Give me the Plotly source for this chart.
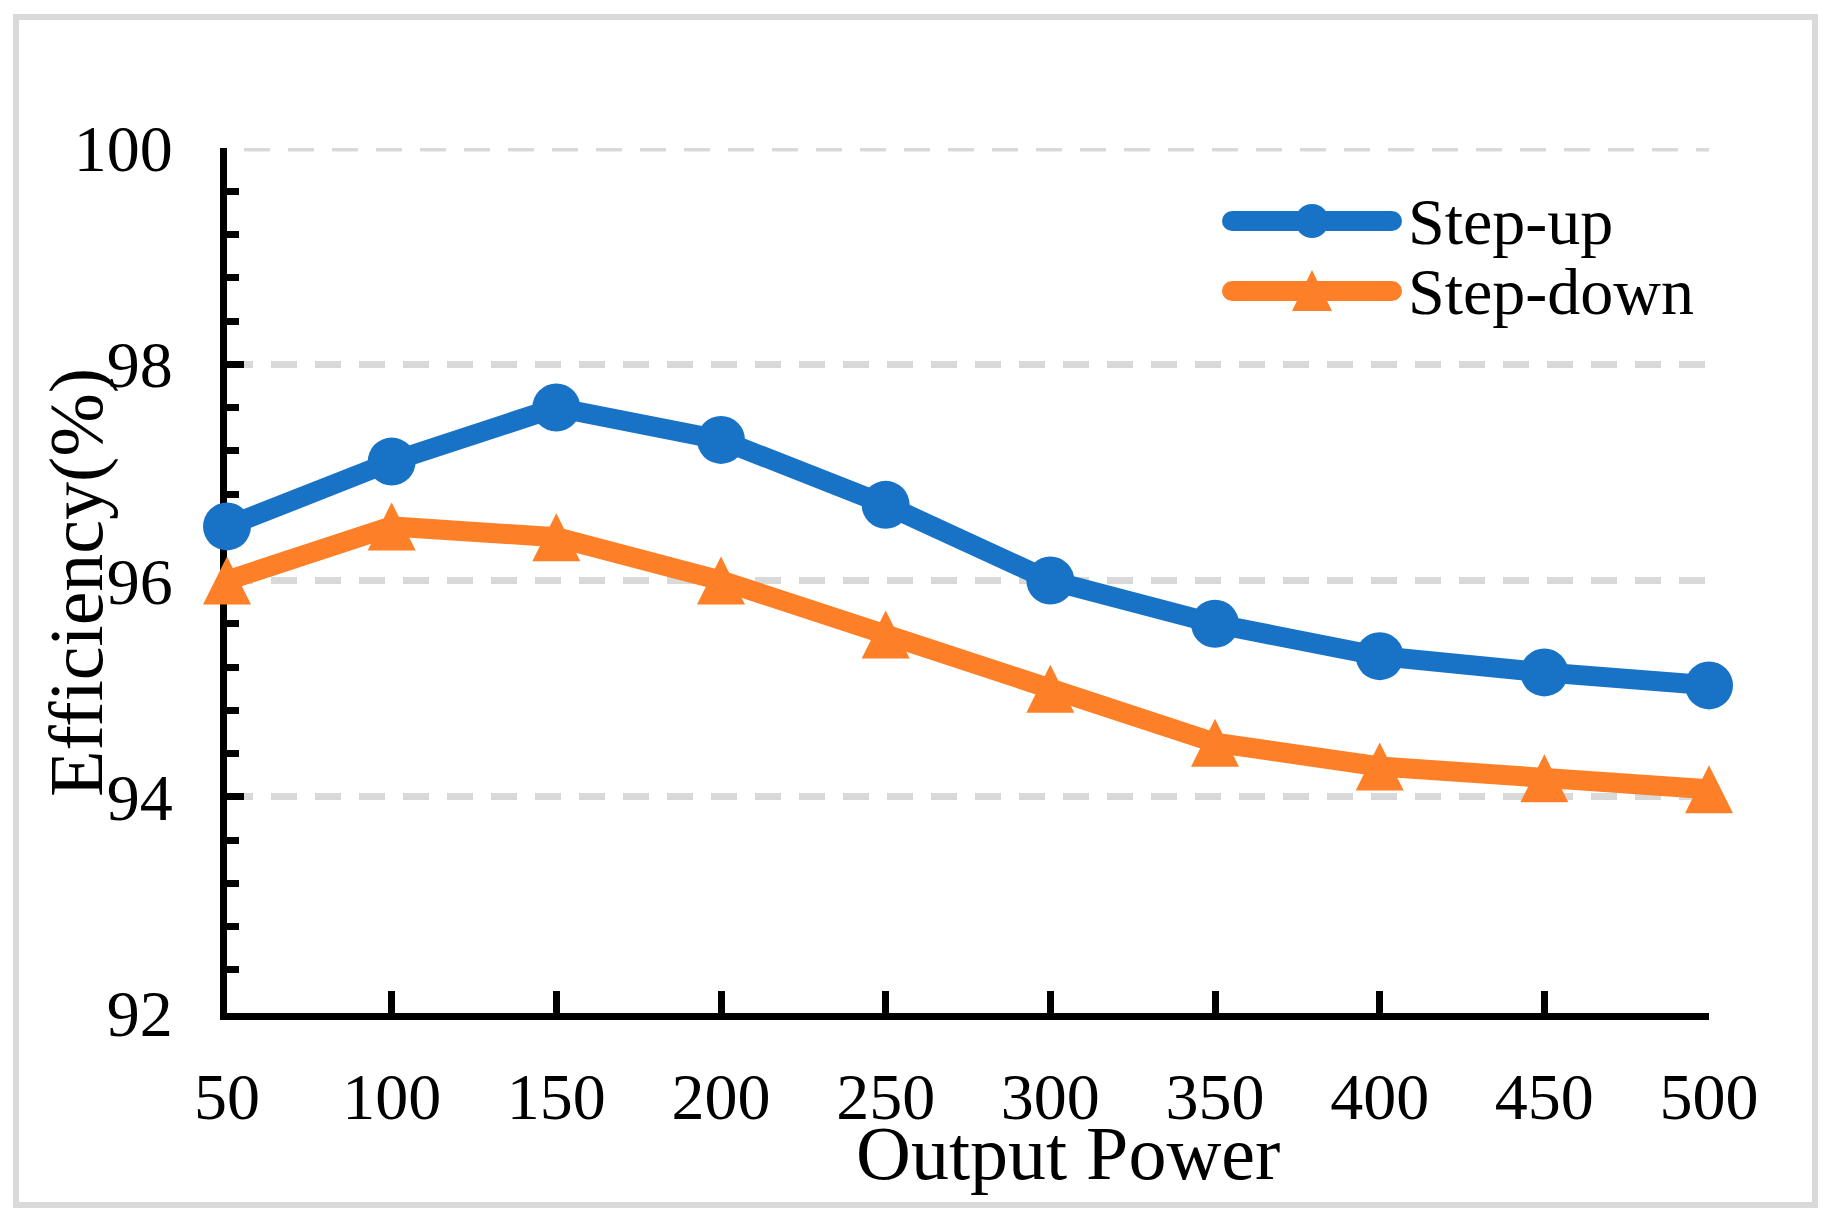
import plotly.graph_objects as go

# ---- data ----
power = [50, 100, 150, 200, 250, 300, 350, 400, 450, 500]
step_up = [96.5, 97.1, 97.6, 97.3, 96.7, 96.0, 95.6, 95.3, 95.15, 95.03]
step_down = [96.0, 96.5, 96.4, 96.0, 95.5, 95.0, 94.5, 94.28, 94.17, 94.07]
series_names = ["Step-up", "Step-down"]
x_tick_labels = [str(p) for p in power]
y_tick_values = [92, 94, 96, 98, 100]
y_tick_labels = [str(v) for v in y_tick_values]
x_title = "Output Power"
y_title = "Efficiency(%)"

# ---- layout geometry (pixels) ----
W, H = 1837, 1221
L, R, T, B = 227, 128, 148, 208
PW, PH = W - L - R, H - T - B


def px(x):
    return (x - L) / PW


def py(y):
    return (H - B - y) / PH


BLUE = "#1873c7"
ORANGE = "#fd7f27"
GRID = "#d9d9d9"
FONT = "Liberation Serif"

fig = go.Figure()
fig.add_trace(go.Scatter(
    x=power, y=step_up, mode="lines+markers", name=series_names[0],
    line=dict(color=BLUE, width=20),
    marker=dict(symbol="circle", size=48, color=BLUE),
    cliponaxis=False, showlegend=False))
fig.add_trace(go.Scatter(
    x=power, y=step_down, mode="lines+markers", name=series_names[1],
    line=dict(color=ORANGE, width=20, backoff=0),
    marker=dict(symbol="arrow-down", angle=180, standoff=24, size=48, color=ORANGE),
    cliponaxis=False, showlegend=False))

shapes = []
# outer frame
shapes.append(dict(type="rect", xref="paper", yref="paper",
                   x0=px(16), x1=px(1815), y0=py(17), y1=py(1205),
                   line=dict(color=GRID, width=6), layer="below"))
# top gridline (plotly skips the grid line on the plot edge)
shapes.append(dict(type="line", xref="paper", yref="y",
                   x0=px(244), x1=1, y0=y_tick_values[-1], y1=y_tick_values[-1],
                   line=dict(color=GRID, width=7, dash="26px,18px"), layer="below"))

# manual legend
leg_x0, leg_x1 = 1232, 1392
leg_rows = [(221, BLUE, "circle"), (291, ORANGE, "triangle")]
annotations = []
for (ly, col, kind), name in zip(leg_rows, series_names):
    shapes.append(dict(type="line", xref="paper", yref="paper",
                       x0=px(leg_x0), x1=px(leg_x1), y0=py(ly), y1=py(ly),
                       line=dict(color=col, width=20)))
    for ex in (leg_x0, leg_x1):
        shapes.append(dict(type="circle", xref="paper", yref="paper",
                           xsizemode="pixel", ysizemode="pixel",
                           xanchor=px(ex), yanchor=py(ly),
                           x0=-10, x1=10, y0=-10, y1=10,
                           fillcolor=col, line=dict(width=0)))
    mx = (leg_x0 + leg_x1) / 2
    if kind == "circle":
        shapes.append(dict(type="circle", xref="paper", yref="paper",
                           xsizemode="pixel", ysizemode="pixel",
                           xanchor=px(mx), yanchor=py(ly),
                           x0=-17, x1=17, y0=-17, y1=17,
                           fillcolor=col, line=dict(width=0)))
    else:
        shapes.append(dict(type="path", xref="paper", yref="paper",
                           xsizemode="pixel", ysizemode="pixel",
                           xanchor=px(mx), yanchor=py(ly),
                           path="M-20,-20 L20,-20 L0,21 Z",
                           fillcolor=col, line=dict(width=0)))
    annotations.append(dict(text=name, xref="paper", yref="paper",
                            x=px(1406), y=py(ly), xanchor="left", yanchor="middle",
                            showarrow=False, font=dict(family=FONT, size=66, color="black")))

annotations.append(dict(text=x_title, xref="paper", yref="paper",
                        x=px(1068), y=py(1153), xanchor="center", yanchor="middle",
                        showarrow=False, font=dict(family=FONT, size=76, color="black")))
annotations.append(dict(text=y_title, xref="paper", yref="paper",
                        x=px(76), y=py(583), xanchor="center", yanchor="middle",
                        textangle=-90, showarrow=False,
                        font=dict(family=FONT, size=76, color="black")))

fig.update_layout(
    width=W, height=H,
    margin=dict(l=L, r=R, t=T, b=B, pad=0),
    paper_bgcolor="white", plot_bgcolor="white",
    shapes=shapes, annotations=annotations,
    xaxis=dict(range=[50, 500], tickmode="array", tickvals=power, ticktext=x_tick_labels,
               ticks="inside", ticklen=22, tickwidth=7, tickcolor="black",
               showline=True, linewidth=7, linecolor="black",
               showgrid=False, zeroline=False, layer="below traces",
               tickfont=dict(family=FONT, size=66, color="black"),
               ticklabelstandoff=20),
    yaxis=dict(range=[92, 100], tickmode="array", tickvals=y_tick_values, ticktext=y_tick_labels,
               ticks="inside", ticklen=17, tickwidth=7, tickcolor="black",
               showline=True, linewidth=7, linecolor="black",
               showgrid=True, gridcolor=GRID, gridwidth=7, griddash="26px,18px",
               zeroline=False, layer="below traces",
               minor=dict(dtick=0.4, tick0=92, ticks="inside", ticklen=12, tickwidth=7,
                          tickcolor="black", showgrid=False),
               tickfont=dict(family=FONT, size=66, color="black"),
               ticklabelstandoff=34),
)

fig.write_html("out.html", config={"displayModeBar": False},
               post_script="document.body.style.margin='0';")
